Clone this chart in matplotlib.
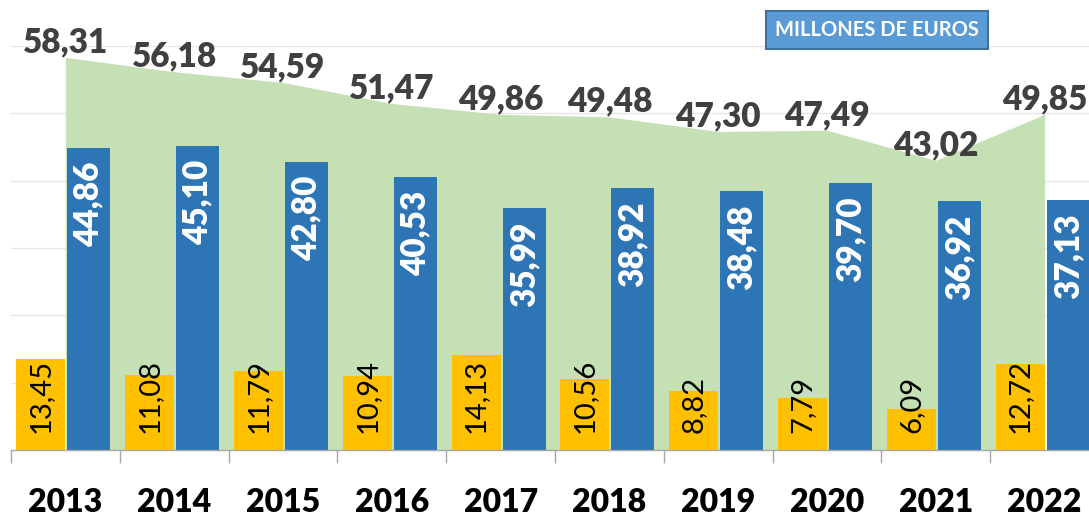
import numpy as np
import matplotlib
matplotlib.use("Agg")
from matplotlib import pyplot as plt

plt.rcParams["font.family"] = ["Lato", "DejaVu Sans"]

years = ["2013", "2014", "2015", "2016", "2017", "2018", "2019", "2020", "2021", "2022"]
totals = [58.31, 56.18, 54.59, 51.47, 49.86, 49.48, 47.30, 47.49, 43.02, 49.85]
yellow_vals = [13.45, 11.08, 11.79, 10.94, 14.13, 10.56, 8.82, 7.79, 6.09, 12.72]
blue_vals = [44.86, 45.10, 42.80, 40.53, 35.99, 38.92, 38.48, 39.70, 36.92, 37.13]


def fmt(v):
    return f"{v:.2f}".replace(".", ",")


W, H = 1089, 516
fig = plt.figure(figsize=(W / 100, H / 100), dpi=100)
ax = fig.add_axes([11 / W, 66 / H, 1088 / W, (450 - 46) / H])

x = np.arange(len(years))

# area with totals
ax.fill_between(x, totals, 0, color="#C5E0B4", linewidth=0, zorder=1)

ax.bar(x - 0.225, yellow_vals, width=0.45, color="#FFC000", zorder=2)
ax.bar(x + 0.216, blue_vals, width=0.395, color="#2E75B6", zorder=2)

for xi, v in zip(x, yellow_vals):
    ax.text(xi - 0.225, 2.5, fmt(v), rotation=90, ha="center", va="bottom",
            fontsize=21, color="black", zorder=3)

for xi, v in zip(x, blue_vals):
    ax.text(xi + 0.216, v - 2.0, fmt(v), rotation=90, ha="center", va="top",
            fontsize=24, fontweight="heavy", color="white", zorder=3)

for xi, v in zip(x, totals):
    ax.annotate(fmt(v), (xi, v), xytext=(0, 11), textcoords="offset points",
                ha="center", va="center", fontsize=24, fontweight="heavy",
                color="#404040", annotation_clip=False, zorder=4)

ax.set_xlim(-0.5, len(years) - 0.5)
ax.set_ylim(0, 60)
ax.set_yticks(np.arange(10, 61, 10))
ax.yaxis.grid(True, color="#E6E6E6", linewidth=1, zorder=0)
ax.set_axisbelow(True)
ax.tick_params(axis="y", left=False, labelleft=False)

ax.set_xticks(np.arange(-0.5, len(years), 1.0))
ax.set_xticklabels([])
ax.tick_params(axis="x", which="major", length=9, color="#A6A6A6", width=1)
ax.set_xticks(x, minor=True)
ax.set_xticklabels(years, minor=True, fontsize=23, fontweight="heavy")
ax.tick_params(axis="x", which="minor", length=0, pad=27)

for s in ["top", "right", "left"]:
    ax.spines[s].set_visible(False)
ax.spines["bottom"].set_color("#A6A6A6")
ax.spines["bottom"].set_linewidth(1)

fig.text(877 / W, 1 - 30 / H, "MILLONES DE EUROS", ha="center", va="center",
         fontsize=14.5, fontweight="bold", color="white",
         bbox=dict(boxstyle="square,pad=0.45", fc="#5B9BD5", ec="#41719C", lw=1.5))

fig.savefig("out.png", dpi=100)
